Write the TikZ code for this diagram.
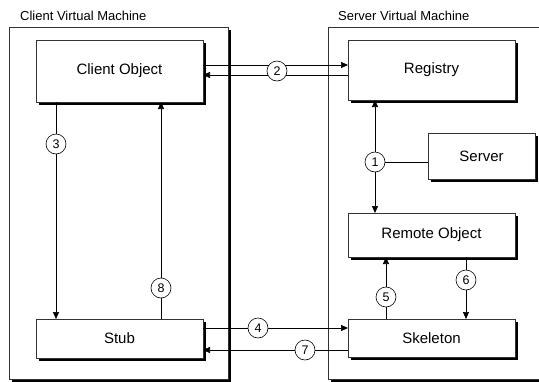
\documentclass[tikz,border=0pt]{standalone}
\usepackage{fontspec}
\setmainfont{Liberation Sans}
\usetikzlibrary{arrows.meta,shadows}
\begin{document}
\begin{tikzpicture}[x=1pt,y=-1pt,
  sh/.style={drop shadow={shadow xshift=2.5pt,shadow yshift=-2.5pt,fill=black,opacity=1}},
  vmbox/.style={draw=black!80,line width=0.6pt,fill=white,sh,inner sep=0pt,outer sep=0pt},
  obj/.style={draw=black!80,line width=0.6pt,fill=white,sh,inner sep=0pt,outer sep=0pt,
    font=\fontsize{15}{18}\selectfont},
  title/.style={anchor=base west,inner sep=0pt,font=\fontsize{13}{15}\selectfont},
  num/.style={circle,draw=black,line width=0.6pt,fill=white,minimum size=20pt,inner sep=0pt,
    font=\fontsize{12.5}{14}\selectfont},
  conn/.style={draw=black,line width=0.7pt},
  arr/.style={conn,-{Triangle[length=7pt,width=6pt]}}]
\useasboundingbox (0,0) rectangle (539,381);
\clip (0,0) rectangle (539,381);
% virtual machines
\node[vmbox,minimum width=219pt,minimum height=352pt] (cvm) at (118.5,203) {};
\node[vmbox,minimum width=240pt,minimum height=352pt] (svm) at (448,203) {};
\node[title] (cvmt) at (20,20) {Client Virtual Machine};
\node[title] (svmt) at (338,20) {Server Virtual Machine};
% objects
\node[obj,minimum width=167pt,minimum height=62pt] (co) at (119.5,71) {Client Object};
\node[obj,minimum width=167pt,minimum height=39pt] (stub) at (119.5,338.5) {Stub};
\node[obj,minimum width=167pt,minimum height=60pt] (reg) at (431.5,70) {Registry};
\node[obj,minimum width=107pt,minimum height=46pt] (srv) at (481.5,156) {Server};
\node[obj,minimum width=167pt,minimum height=44pt] (ro) at (431.5,235) {Remote Object};
\node[obj,minimum width=167pt,minimum height=38pt] (skel) at (431.5,338) {Skeleton};
% helper coordinates
\coordinate (c2a) at (277,65);
\coordinate (c2b) at (277,75);
\coordinate (x3) at (56,0);
\coordinate (x8) at (161,0);
\coordinate (y4) at (0,328);
\coordinate (y7) at (0,350);
\coordinate (x5) at (386,0);
\coordinate (x6) at (466,0);
% connectors
\draw[arr] (co.east |- c2a) -- (reg.west |- c2a);
\draw[arr] (reg.west |- c2b) -- (co.east |- c2b);
\draw[arr] (x3 |- co.south) -- (x3 |- stub.north);
\draw[arr] (x8 |- stub.north) -- (x8 |- co.south);
\draw[arr] (stub.east |- y4) -- (skel.west |- y4);
\draw[arr] (skel.west |- y7) -- (stub.east |- y7);
\draw[arr] (x5 |- skel.north) -- (x5 |- ro.south);
\draw[arr] (x6 |- ro.south) -- (x6 |- skel.north);
\node[num] (n1) at (375,162) {1};
\draw[arr] (n1) -- (n1 |- reg.south);
\draw[arr] (n1) -- (n1 |- ro.north);
\draw[conn] (n1) -- (n1 -| srv.west);
% numbered circles
\node[num] (n2) at (277,71) {2};
\node[num] (n3) at (56,144) {3};
\node[num] (n4) at (258,328) {4};
\node[num] (n5) at (386,297) {5};
\node[num] (n6) at (466,280) {6};
\node[num] (n7) at (305,350) {7};
\node[num] (n8) at (161,288) {8};
\end{tikzpicture}
\end{document}
